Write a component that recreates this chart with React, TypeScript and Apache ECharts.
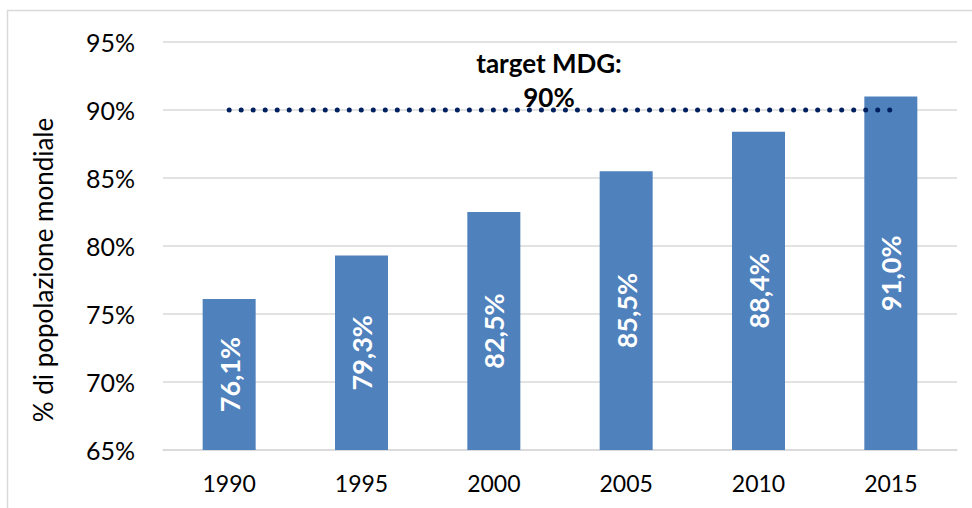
import React, { useEffect, useRef } from "react";
import * as echarts from "echarts";

const categories = ["1990", "1995", "2000", "2005", "2010", "2015"];
const coverage = [76.1, 79.3, 82.5, 85.5, 88.4, 91.0];
const target = [90, 90, 90, 90, 90, 90];
const yTicks = [65, 70, 75, 80, 85, 90, 95];
const yAxisTitle = "% di popolazione mondiale";
const targetLabel = "target MDG:\n90%";

const FONT = "Lato, 'Open Sans', sans-serif";

export default function App() {
  const ref = useRef<HTMLDivElement>(null);
  useEffect(() => {
    if (!ref.current) return;
    const chart = echarts.init(ref.current, null, { renderer: "svg" });
    chart.setOption({
      animation: false,
      backgroundColor: "#ffffff",
      grid: { left: 163, right: 15, top: 42, bottom: 58 },
      xAxis: {
        type: "category",
        data: categories,
        axisLine: { show: true, lineStyle: { color: "#d9d9d9", width: 1.5 } },
        axisTick: { show: false },
        axisLabel: { color: "#000", fontSize: 23, fontFamily: FONT, margin: 21 },
      },
      yAxis: {
        type: "value",
        min: yTicks[0],
        max: yTicks[yTicks.length - 1],
        interval: 5,
        axisLine: { show: false },
        axisTick: { show: false },
        axisLabel: {
          color: "#000",
          fontSize: 25,
          fontFamily: FONT,
          margin: 28,
          formatter: (v: number) => `${v}%`,
        },
        splitLine: { lineStyle: { color: "#d9d9d9", width: 1.5 } },
      },
      series: [
        {
          type: "bar",
          data: coverage,
          barWidth: 53,
          itemStyle: { color: "#4f81bd" },
          label: {
            show: true,
            position: "inside",
            rotate: 90,
            color: "#fff",
            fontSize: 27,
            fontWeight: "bold",
            fontFamily: FONT,
            formatter: (p: any) => `${p.value.toFixed(1).replace(".", ",")}%`,
          },
          z: 2,
        },
        {
          type: "line",
          data: target,
          symbol: "none",
          lineStyle: { color: "#002060", width: 5, type: [0.01, 12], cap: "round" },
          z: 3,
        },
      ],
      graphic: [
        {
          type: "rect",
          shape: { x: 7.5, y: 10.5, width: 1000, height: 600 },
          style: { fill: "none", stroke: "#d9d9d9", lineWidth: 1.5 },
          silent: true,
          z: -1,
        },
        {
          type: "text",
          x: 43,
          y: 270,
          rotation: Math.PI / 2,
          style: {
            text: yAxisTitle,
            fontSize: 26,
            fontFamily: FONT,
            fill: "#000",
            align: "center",
            verticalAlign: "middle",
          },
        },
        {
          type: "text",
          x: 549,
          y: 80,
          style: {
            text: targetLabel,
            fontSize: 26,
            fontWeight: "bold",
            fontFamily: FONT,
            fill: "#000",
            align: "center",
            verticalAlign: "middle",
            lineHeight: 34,
          },
          z: 10,
        },
      ],
    });
    return () => chart.dispose();
  }, []);
  return (
    <div
      ref={ref}
      style={{ position: "absolute", left: 0, top: 0, width: 972, height: 508 }}
    />
  );
}
